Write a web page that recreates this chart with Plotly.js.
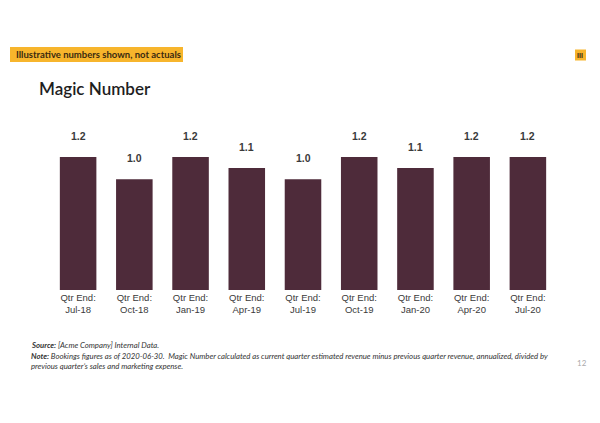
<!DOCTYPE html>
<html>
<head>
<meta charset="utf-8">
<script src="https://cdn.plot.ly/plotly-3.0.1.min.js"></script>
<style>
html,body{margin:0;padding:0;background:#fff;}
#chart{width:600px;height:423px;}
</style>
</head>
<body>
<div id="chart"></div>
<script>
// ---- data ----
const categories = ["Jul-18","Oct-18","Jan-19","Apr-19","Jul-19","Oct-19","Jan-20","Apr-20","Jul-20"];
const tickLabels = ["Qtr End:<br>Jul-18","Qtr End:<br>Oct-18","Qtr End:<br>Jan-19","Qtr End:<br>Apr-19","Qtr End:<br>Jul-19","Qtr End:<br>Oct-19","Qtr End:<br>Jan-20","Qtr End:<br>Apr-20","Qtr End:<br>Jul-20"];
const magicNumber = [1.2, 1.0, 1.2, 1.1, 1.0, 1.2, 1.1, 1.2, 1.2];
const valueLabels = ["1.2","1.0","1.2","1.1","1.0","1.2","1.1","1.2","1.2"];

// ---- layout geometry ----
const W = 600, H = 423;
const M = {l: 50, r: 44, t: 130, b: 133};
const pw = W - M.l - M.r, ph = H - M.t - M.b;
const px = x => (x - M.l) / pw;
const py = y => (H - M.b - y) / ph;

const barColor = "#4e2b3a";
const yellow = "#f7b52c";

const trace = {
  type: "bar",
  x: categories,
  y: magicNumber,
  marker: {color: barColor, line: {width: 0}},
  hoverinfo: "none"
};

const annotations = categories.map((c, i) => ({
  x: c, y: magicNumber[i], xref: "x", yref: "y",
  text: "<b>" + valueLabels[i] + "</b>",
  showarrow: false, yanchor: "bottom", yshift: 13,
  font: {family: "Liberation Sans, Arial, sans-serif", size: 10.5, color: "#3a3a3a"}
}));

annotations.push(
  {xref: "paper", yref: "paper", x: px(14), y: py(54.5), xanchor: "left", yanchor: "middle",
   text: "Illustrative numbers shown, not actuals", showarrow: false,
   font: {family: "Lato, sans-serif", size: 9.5, color: "#3a2a10", weight: 700}},
  {xref: "paper", yref: "paper", x: px(580), y: py(55), xanchor: "center", yanchor: "middle",
   text: "III", showarrow: false,
   font: {family: "Liberation Sans, sans-serif", size: 7, color: "#3a2a10", weight: 700}},
  {xref: "paper", yref: "paper", x: px(37), y: py(88), xanchor: "left", yanchor: "middle",
   text: "Magic Number", showarrow: false,
   font: {family: "Lato, sans-serif", size: 17, color: "#1e1e1e", weight: 600}},
  {xref: "paper", yref: "paper", x: px(29), y: py(345), xanchor: "left", yanchor: "middle",
   text: "<b><i>Source:</i></b><i> [Acme Company] Internal Data.</i>", showarrow: false,
   font: {family: "Lato, sans-serif", size: 7.75, color: "#333"}},
  {xref: "paper", yref: "paper", x: px(29), y: py(361), xanchor: "left", yanchor: "middle", align: "left",
   text: "<b><i>Note:</i></b><i> Bookings figures as of 2020-06-30.  Magic Number calculated as current quarter estimated revenue minus previous quarter revenue, annualized, divided by</i><br><i>previous quarter’s sales and marketing expense.</i>",
   showarrow: false,
   font: {family: "Lato, sans-serif", size: 7.75, color: "#333"}},
  {xref: "paper", yref: "paper", x: px(582), y: py(363), xanchor: "center", yanchor: "middle",
   text: "12", showarrow: false,
   font: {family: "Lato, sans-serif", size: 8, color: "#aaa"}}
);

const shapes = [
  {type: "rect", xref: "paper", yref: "paper", x0: px(10), x1: px(183), y0: py(47), y1: py(62),
   fillcolor: yellow, line: {width: 0}, layer: "below"},
  {type: "rect", xref: "paper", yref: "paper", x0: px(575), x1: px(586), y0: py(49.5), y1: py(60.5),
   fillcolor: yellow, line: {width: 0}, layer: "below"}
];

const layout = {
  width: W, height: H,
  margin: M,
  paper_bgcolor: "#fff", plot_bgcolor: "#fff",
  showlegend: false,
  bargap: 0.35,
  xaxis: {
    type: "category",
    tickvals: categories, ticktext: tickLabels,
    showgrid: false, zeroline: false, showline: false, ticks: "",
    tickfont: {family: "Liberation Sans, Arial, sans-serif", size: 9.5, color: "#3a3a3a"},
    fixedrange: true
  },
  yaxis: {
    range: [0, 1.2 * ph / 133],
    visible: false, showgrid: false, zeroline: false, fixedrange: true
  },
  annotations: annotations,
  shapes: shapes
};

Plotly.newPlot("chart", [trace], layout, {displayModeBar: false, staticPlot: true});
</script>
</body>
</html>
